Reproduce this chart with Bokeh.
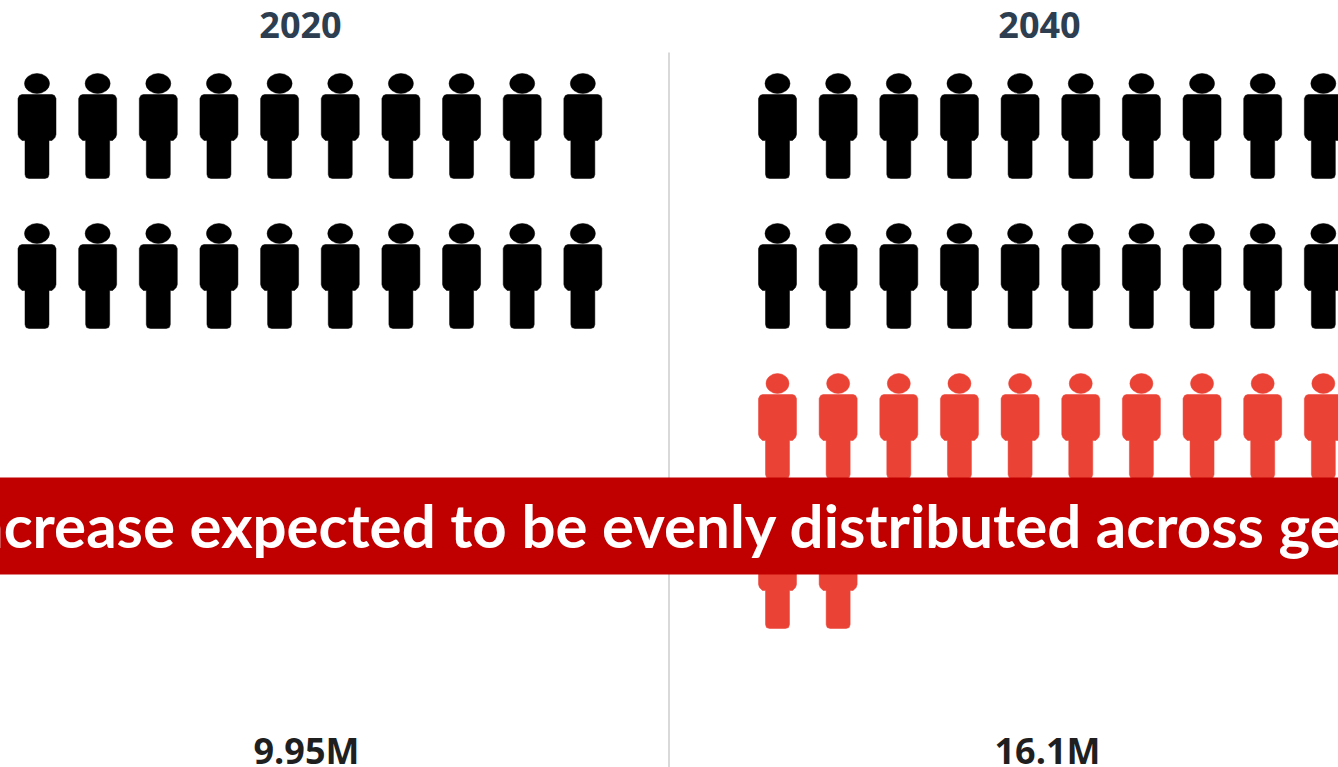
from bokeh.core.properties import value
from bokeh.embed import file_html
from bokeh.models import BoxAnnotation, ColumnDataSource, Range1d
from bokeh.plotting import figure
from bokeh.resources import INLINE

# Population figures, in millions
years = ["2020", "2040"]
totals_m = [9.95, 16.1]
total_labels = ["9.95M", "16.1M"]
millions_per_icon = 0.5
banner_text = "Increase expected to be evenly distributed across geographies"

# Page geometry, in pixels
WIDTH, HEIGHT = 1338, 767
PANEL_LEFT = [36.5, 777.0]
COL_STEP = 60.65
ROW_TOP = 73.0
ROW_STEP = 150.0
ICONS_PER_ROW = 10

BLACK = "#000000"
RED = "#EA4335"

# Outline of a figure's torso and legs, relative to the top centre of its head
BODY_X = [-15, 15, 17.5, 19, 19, 18, 15, 12, 12, 11, 8, -8, -11, -12, -12, -15, -18, -19, -19, -17.5]
BODY_Y = [21, 21, 22, 25, 61, 64, 67, 67, 101, 104, 105, 105, 104, 101, 67, 67, 64, 61, 25, 22]

base_icons = round(totals_m[0] / millions_per_icon)

xs, ys, heads_x, heads_y, head_w, colors = [], [], [], [], [], []
for left, total in zip(PANEL_LEFT, totals_m):
    for i in range(round(total / millions_per_icon)):
        row, col = divmod(i, ICONS_PER_ROW)
        cx = left + col * COL_STEP
        top = ROW_TOP + row * ROW_STEP
        xs.append([cx + dx for dx in BODY_X])
        ys.append([top + dy for dy in BODY_Y])
        heads_x.append(cx)
        heads_y.append(top + 10)
        head_w.append(25 if i < base_icons else 23)
        colors.append(BLACK if i < base_icons else RED)

source = ColumnDataSource(dict(xs=xs, ys=ys, hx=heads_x, hy=heads_y, hw=head_w, color=colors))

# The canvas is pulled one pixel left so the banner reaches the page edge;
# the x range starts at -1 so that data units still equal page pixels.
p = figure(
    width=WIDTH + 1, height=HEIGHT, output_backend="svg", toolbar_location=None,
    x_range=Range1d(-1, WIDTH), y_range=Range1d(HEIGHT, 0),
    x_axis_location=None, y_axis_location=None,
    min_border=0, outline_line_color=None, background_fill_color="white",
    styles={"margin-left": "-1px"},
)
p.grid.visible = False

p.segment(x0=[668.5], y0=[52], x1=[668.5], y1=[HEIGHT], line_color="#D9D9D9", line_width=2)

p.patches("xs", "ys", source=source, fill_color="color", line_color="color", line_width=0.5)
p.ellipse("hx", "hy", width="hw", height=20, source=source, fill_color="color", line_color="color", line_width=0.5)

p.text(
    x=[300, 1039], y=[24.5, 24.5], text=years, text_font=value("Open Sans"), text_font_style="bold",
    text_font_size="36px", text_color="#2C3E50", text_align="center", text_baseline="middle",
)
p.text(
    x=[306, 1047], y=[749.5, 749.5], text=total_labels, text_font=value("Open Sans"), text_font_style="bold",
    text_font_size="36px", text_color="#1F1F1F", text_align="center", text_baseline="middle",
)

# Banner across the page, running off both edges
p.add_layout(BoxAnnotation(left=-5, right=WIDTH + 5, top=477, bottom=574, fill_color="#C00000",
                           fill_alpha=1, line_color=None, level="annotation"))
p.text(
    x=[-48], y=[524], text=[banner_text], text_font=value("Lato"), text_font_style="bold",
    text_font_size="60px", text_color="white", text_align="left", text_baseline="middle",
    level="overlay",
)

open("out.html", "w").write(file_html(p, INLINE))
